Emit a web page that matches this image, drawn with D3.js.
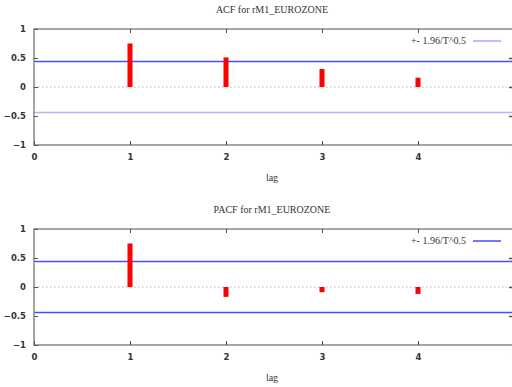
<!DOCTYPE html>
<html>
<head>
<meta charset="utf-8">
<script src="https://cdn.jsdelivr.net/npm/d3@7.9.0/dist/d3.min.js"></script>
<style>
  body { margin: 0; background: #fff; }
  svg text { font-family: "DejaVu Sans", sans-serif; fill: #333; }
  svg text.lbl { font-family: "Liberation Serif", serif; }
</style>
</head>
<body>
<svg id="chart" width="512" height="387"></svg>
<script>
// data
const lags = [1, 2, 3, 4];
const acf = [0.75, 0.51, 0.31, 0.16];
const pacf = [0.75, -0.17, -0.09, -0.12];
const band = 0.44;
const xTicks = [0, 1, 2, 3, 4, 5];
const yTicks = [-1, -0.5, 0, 0.5, 1];

const svg = d3.select('#chart');

function drawPanel(top, title, values, lowerColor) {
    let x = d3.scaleLinear().domain([0, 5]).range([34, 514]);
    let y = d3.scaleLinear().domain([-1, 1]).range([top + 116, top]);
    let g = svg.append('g');

    // title
    g.append('text')
     .attr('class', 'lbl')
     .attr('x', 272).attr('y', top - 16)
     .attr('text-anchor', 'middle')
     .attr('font-size', 10)
     .text(title);

    // zero line, dotted
    g.append('line')
     .attr('x1', x(0)).attr('x2', x(5))
     .attr('y1', y(0)).attr('y2', y(0))
     .attr('stroke', '#aaa').attr('stroke-dasharray', '1.5,2.5');

    // confidence band lines
    g.append('line')
     .attr('x1', x(0)).attr('x2', x(5))
     .attr('y1', y(band)).attr('y2', y(band))
     .attr('stroke', '#4a4aff').attr('stroke-width', 1.5);
    g.append('line')
     .attr('x1', x(0)).attr('x2', x(5))
     .attr('y1', y(-band)).attr('y2', y(-band))
     .attr('stroke', lowerColor).attr('stroke-width', 1.5);

    // bars
    g.selectAll('rect.bar')
     .data(lags)
     .join('rect')
     .attr('class', 'bar')
     .attr('x', (d) => x(d) - 2.5)
     .attr('width', 5)
     .attr('y', (d, i) => y(Math.max(0, values[i])))
     .attr('height', (d, i) => Math.abs(y(values[i]) - y(0)))
     .attr('fill', '#ff0000');

    // frame
    g.append('rect')
     .attr('x', x(0)).attr('y', y(1))
     .attr('width', x(5) - x(0)).attr('height', y(-1) - y(1))
     .attr('fill', 'none').attr('stroke', '#888').attr('stroke-width', 1.5);

    // y ticks + labels
    let yAxis = d3.axisLeft(y).tickValues(yTicks).tickSize(-4).tickPadding(8)
        .tickFormat((d) => d3.format('')(d));
    let ya = g.append('g').attr('transform', `translate(${x(0)},0)`).call(yAxis);
    ya.select('.domain').remove();
    ya.selectAll('line').attr('stroke', '#555');
    ya.selectAll('text').attr('font-size', 8.5).attr('font-weight', 'bold').attr('fill', '#444');

    // right ticks
    let yr = g.append('g').attr('transform', `translate(${x(5)},0)`)
        .call(d3.axisRight(y).tickValues([-0.5, 0, 0.5]).tickSize(-5).tickFormat(''));
    yr.select('.domain').remove();
    yr.selectAll('line').attr('stroke', '#555').attr('stroke-width', 1.5);

    // x ticks bottom + labels
    let xAxis = d3.axisBottom(x).tickValues(xTicks).tickSize(-4).tickPadding(9)
        .tickFormat(d3.format('d'));
    let xa = g.append('g').attr('transform', `translate(0,${y(-1)})`).call(xAxis);
    xa.select('.domain').remove();
    xa.selectAll('line').attr('stroke', '#555');
    xa.selectAll('text').attr('font-size', 8.5).attr('font-weight', 'bold').attr('fill', '#444');

    // x ticks top
    let xt = g.append('g').attr('transform', `translate(0,${y(1)})`)
        .call(d3.axisTop(x).tickValues(lags).tickSize(-4).tickFormat(''));
    xt.select('.domain').remove();
    xt.selectAll('line').attr('stroke', '#555');

    // x label
    g.append('text')
     .attr('class', 'lbl')
     .attr('x', 272).attr('y', y(-1) + 36)
     .attr('text-anchor', 'middle')
     .attr('font-size', 10)
     .text('lag');

    // legend
    g.append('text')
     .attr('class', 'lbl')
     .attr('x', 466).attr('y', top + 15)
     .attr('text-anchor', 'end')
     .attr('font-size', 10)
     .text('+- 1.96/T^0.5');
    g.append('line')
     .attr('x1', 473).attr('x2', 501)
     .attr('y1', top + 12).attr('y2', top + 12)
     .attr('stroke', lowerColor === '#4a4aff' ? '#4a4aff' : '#aaaaff').attr('stroke-width', 1.5);
}

drawPanel(29, 'ACF for rM1_EUROZONE', acf, '#b4b4ff');
drawPanel(229, 'PACF for rM1_EUROZONE', pacf, '#4a4aff');
</script>
</body>
</html>
